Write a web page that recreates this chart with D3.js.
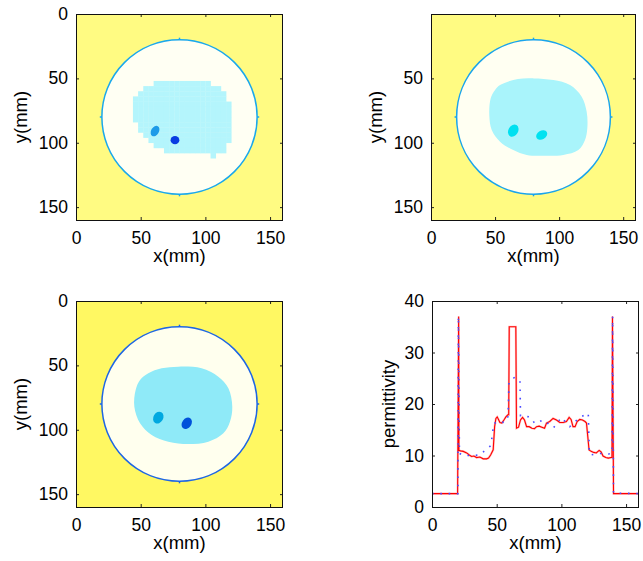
<!DOCTYPE html>
<html><head><meta charset="utf-8">
<script src="https://cdn.jsdelivr.net/npm/d3@7"></script>
<style>
body{margin:0;background:#fff}
text{font-family:"Liberation Sans",Arial,Helvetica,sans-serif}
</style>
</head><body>
<svg id="chart" width="643" height="561"></svg>
<script>
// ---------------- data ----------------
const xTickValues = [0, 50, 100, 150];
const yTickValuesA = [0, 50, 100, 150];
const yTickValuesB = [50, 100, 150];
const profileYTicks = [0, 10, 20, 30, 40];
const fieldExtent = [0, 160];
const profileYExtent = [0, 40];

const phantomCenter = [80, 80];
const phantomRadius = 60;

// inner (fibroglandular) region outlines, mm
const blob1 = [[53.3,57.7],[61.1,52.6],[76.5,52.6],[92,53.9],[102.3,53.9],[112.6,57.7],[119,68.1],[120.3,83.7],[119,99.2],[115.2,105.7],[107.5,110.8],[99.7,109.5],[92,107],[79.1,108.3],[66.2,105.7],[55.9,99.2],[48.2,91.4],[44.3,81],[44.3,68.1],[46.9,62.9]];
const blob2 = [[53.9,55.2],[64.2,51.3],[79.9,50],[95.5,51.3],[108.5,55.2],[117.6,64.2],[121.5,75.9],[122,88.8],[120.2,97.9],[115,105.7],[103.3,109.5],[87.7,110.1],[74.7,109.5],[64.2,105.7],[53.9,99.2],[47.4,90.1],[45.5,78.5],[46.6,65.5],[50,59]];
const blob3 = [[55.9,56.2],[66.2,52.3],[79.1,51],[97.1,52.3],[110,58.8],[117.8,67.8],[120.8,82.1],[119,93.7],[113.9,102.8],[102.3,109.3],[86.8,111.1],[71.4,109.3],[58.5,104.1],[49.5,95],[45.1,82.1],[46.1,69.1],[49.5,61.4]];

// inclusions: [cx, cy, rx, ry, rotation deg]
const inclusions1 = [[61.1,90.9,3.0,4.4,30],[76.5,98.0,3.4,3.2,0]];
const inclusions2 = [[64.2,90.6,3.8,5.0,30],[86.4,94.0,4.6,3.4,-30]];
const inclusions3 = [[63.6,90.6,3.8,4.8,30],[85.6,95.0,3.6,4.8,35]];

// permittivity profile along x
const redX = [0,19.8,20.6,20.8,22,24.2,26.8,28.8,30.6,32.4,34.5,37,39.6,42.2,43.7,45.3,47.3,48.4,49.4,50.4,51.4,52.5,54,55.6,57.1,58.6,59.3,59.7,64.8,65.3,66.9,68.4,70,71.5,73.1,75.1,77.2,79.2,80.8,82.8,84.9,87,88.5,91,93.6,96.2,98.8,101.4,103.9,106,107.5,109,110.6,112.2,114.2,116.3,118.3,119.4,120.4,121.4,123,125,127,129.2,130.7,132.2,134.3,136.3,138.4,139.1,139.5,140.3,160];
const redY = [2.6,2.6,37,11.0,10.9,10.8,10.5,10.1,9.8,9.9,9.6,9.7,9.35,9.35,9.5,10.1,11.1,15.6,17.2,17.5,17.0,16.4,16.3,16.9,17.5,17.9,17.9,35,35,15.3,15.5,16.9,17.4,16.9,15.6,15.6,15.3,15.2,15.6,15.7,15.5,15.3,16.3,16.6,17.2,16.9,16.4,16.4,16.6,17.4,17.0,15.6,15.6,16.6,17.0,16.9,16.6,16.3,13.7,11.1,10.8,10.6,10.5,11.0,10.7,9.9,9.6,9.5,9.6,9.6,37,2.6,2.6];

const blueX = [0,20,20.4,21.2,24.2,30.7,37.1,41.5,45.3,46.9,47.4,50.5,56.4,58.8,59.5,63.6,68,68.4,75.7,79.6,86,94,100,106.5,114.2,120.8,121.5,122.6,129.8,136.3,139.2,139.6,140.3,160];
const blueY = [2.6,2.6,37,10.4,10,10,10.1,11.1,11.9,14.3,16.1,16.6,16.4,17.6,24.3,25.1,24.6,17.7,17.5,16.2,16.9,15.4,17.4,15.6,17.4,18.2,11.3,10.1,10.4,10.3,10.4,37,2.7,2.6];

// ---------------- style / layout ----------------
const FONT = 17.5;
const TITLE_FONT = 18.5;
const layouts = [
  {x:76,  y:14,  w:207, h:206},
  {x:431, y:14,  w:205, h:206},
  {x:76,  y:301, w:207, h:206},
  {x:432, y:301, w:207, h:206}
];
const panelStyles = [
  {bg:'#FFFB82', fat:'#FFFFF3', blob:'#B4F5FC', ring:'#1AA8EC', inc:['#1E9BE8','#0A3CE2'], blocky:true},
  {bg:'#FFFB82', fat:'#FFFFF2', blob:'#A9F4FB', ring:'#1AA4EC', inc:['#00E0F0','#00E2F0'], blocky:false},
  {bg:'#FFF862', fat:'#FFFFEE', blob:'#8FEAF8', ring:'#1E66E4', inc:['#00A8E0','#0052DA'], blocky:false}
];
const imagePanels = [
  {blob: blob1, inc: inclusions1, yTicks: yTickValuesA},
  {blob: blob2, inc: inclusions2, yTicks: yTickValuesB},
  {blob: blob3, inc: inclusions3, yTicks: yTickValuesA}
];

const svg = d3.select('#chart');

function drawAxes(g, L, xs, ys, yTicks, ylabel, ylabelOffset) {
  const bottom = L.y + L.h, right = L.x + L.w;
  const styleAxis = sel => {
    sel.select('.domain').remove();
    sel.attr('font-size', FONT).attr('font-family', '"Liberation Sans",Arial,sans-serif').attr('color', '#000');
    sel.selectAll('.tick line').attr('stroke', '#222');
  };
  g.append('g').attr('transform', `translate(0,${bottom})`)
    .call(d3.axisBottom(xs).tickValues(xTickValues).tickSizeInner(-3).tickSizeOuter(0).tickPadding(12))
    .call(styleAxis);
  g.append('g').attr('transform', `translate(0,${L.y})`)
    .call(d3.axisTop(xs).tickValues(xTickValues).tickSizeInner(-3).tickSizeOuter(0).tickFormat(''))
    .call(styleAxis);
  g.append('g').attr('transform', `translate(${L.x},0)`)
    .call(d3.axisLeft(ys).tickValues(yTicks).tickSizeInner(-3).tickSizeOuter(0).tickPadding(8))
    .call(styleAxis);
  g.append('g').attr('transform', `translate(${right},0)`)
    .call(d3.axisRight(ys).tickValues(yTicks).tickSizeInner(-3).tickSizeOuter(0).tickFormat(''))
    .call(styleAxis);
  g.append('rect').attr('x', L.x + 0.5).attr('y', L.y + 0.5).attr('width', L.w - 1).attr('height', L.h)
    .attr('fill', 'none').attr('stroke', '#111').attr('stroke-width', 1);
  g.append('text').attr('x', L.x + L.w / 2).attr('y', bottom + 42)
    .attr('text-anchor', 'middle').attr('font-size', TITLE_FONT).text('x(mm)');
  g.append('text').attr('transform', `translate(${L.x - ylabelOffset},${L.y + L.h / 2}) rotate(-90)`)
    .attr('text-anchor', 'middle').attr('dy', '0.35em').attr('font-size', TITLE_FONT).text(ylabel);
}

imagePanels.forEach((P, k) => {
  const L = layouts[k], S = panelStyles[k];
  const xs = d3.scaleLinear().domain(fieldExtent).range([L.x, L.x + L.w]);
  const ys = d3.scaleLinear().domain(fieldExtent).range([L.y, L.y + L.h]);
  const g = svg.append('g');
  const clipId = 'clip' + k;
  svg.append('clipPath').attr('id', clipId).append('rect')
    .attr('x', L.x).attr('y', L.y).attr('width', L.w).attr('height', L.h);
  const img = g.append('g').attr('clip-path', `url(#${clipId})`);
  img.append('rect').attr('x', xs(fieldExtent[0])).attr('y', ys(fieldExtent[0]))
    .attr('width', xs(fieldExtent[1]) - xs(fieldExtent[0])).attr('height', ys(fieldExtent[1]) - ys(fieldExtent[0]))
    .attr('fill', S.bg);
  const rx = xs(phantomCenter[0] + phantomRadius) - xs(phantomCenter[0]);
  const ry = ys(phantomCenter[1] + phantomRadius) - ys(phantomCenter[1]);
  img.append('ellipse').attr('cx', xs(phantomCenter[0])).attr('cy', ys(phantomCenter[1]))
    .attr('rx', rx).attr('ry', ry).attr('fill', S.fat);
  if (S.blocky) {
    const cell = 4;
    const cells = [];
    for (let i = 0; i < 40; i++) for (let j = 0; j < 40; j++) {
      const c = [i * cell + cell / 2, j * cell + cell / 2];
      if (d3.polygonContains(P.blob, c)) cells.push([i * cell, j * cell]);
    }
    img.selectAll('rect.cell').data(cells).join('rect').attr('class', 'cell')
      .attr('x', d => xs(d[0])).attr('y', d => ys(d[1]))
      .attr('width', d => xs(d[0] + cell) - xs(d[0]) + 0.3)
      .attr('height', d => ys(d[1] + cell) - ys(d[1]) + 0.3)
      .attr('fill', S.blob);
  } else {
    img.append('path')
      .attr('d', d3.line().x(d => xs(d[0])).y(d => ys(d[1])).curve(d3.curveCatmullRomClosed)(P.blob))
      .attr('fill', S.blob);
  }
  img.selectAll('ellipse.inc').data(P.inc).join('ellipse').attr('class', 'inc')
    .attr('cx', d => xs(d[0])).attr('cy', d => ys(d[1]))
    .attr('rx', d => xs(d[0] + d[2]) - xs(d[0])).attr('ry', d => ys(d[1] + d[3]) - ys(d[1]))
    .attr('transform', d => `rotate(${d[4]},${xs(d[0])},${ys(d[1])})`)
    .attr('fill', (d, i) => S.inc[i]);
  img.append('ellipse').attr('cx', xs(phantomCenter[0])).attr('cy', ys(phantomCenter[1]))
    .attr('rx', rx).attr('ry', ry).attr('fill', 'none').attr('stroke', S.ring).attr('stroke-width', 1.5);
  const marks = [[0,-1],[0,1],[-1,0],[1,0]];
  img.selectAll('line.mark').data(marks).join('line').attr('class', 'mark')
    .attr('x1', d => xs(phantomCenter[0] + d[0] * phantomRadius))
    .attr('y1', d => ys(phantomCenter[1] + d[1] * phantomRadius))
    .attr('x2', d => xs(phantomCenter[0] + d[0] * (phantomRadius + 1.6)))
    .attr('y2', d => ys(phantomCenter[1] + d[1] * (phantomRadius + 1.6)))
    .attr('stroke', S.ring).attr('stroke-width', 1.5);
  drawAxes(g, L, xs, ys, P.yTicks, 'y(mm)', 55);
});

// profile panel
{
  const L = layouts[3];
  const xs = d3.scaleLinear().domain(fieldExtent).range([L.x, L.x + L.w]);
  const ys = d3.scaleLinear().domain(profileYExtent).range([L.y + L.h, L.y]);
  const g = svg.append('g');
  svg.append('clipPath').attr('id', 'clip3').append('rect')
    .attr('x', L.x).attr('y', L.y).attr('width', L.w).attr('height', L.h);
  const plot = g.append('g').attr('clip-path', 'url(#clip3)');
  const redIdx = d3.range(redX.length), blueIdx = d3.range(blueX.length);
  const redLine = d3.line().x(i => xs(redX[i])).y(i => ys(redY[i]));
  plot.append('path').attr('d', redLine(redIdx))
    .attr('fill', 'none').attr('stroke', '#ff9a9a').attr('stroke-width', 2.2).attr('stroke-opacity', 0.6);
  plot.append('path').attr('d', redLine(redIdx))
    .attr('fill', 'none').attr('stroke', '#ff0000').attr('stroke-width', 1.1);
  plot.append('path')
    .attr('d', d3.line().x(i => xs(blueX[i])).y(i => ys(blueY[i]))(blueIdx))
    .attr('fill', 'none').attr('stroke', '#4a4aff').attr('stroke-width', 1.6)
    .attr('stroke-dasharray', '1.6,6.7');
  drawAxes(g, L, xs, ys, profileYTicks, 'permittivity', 43);
}
</script>
</body></html>
